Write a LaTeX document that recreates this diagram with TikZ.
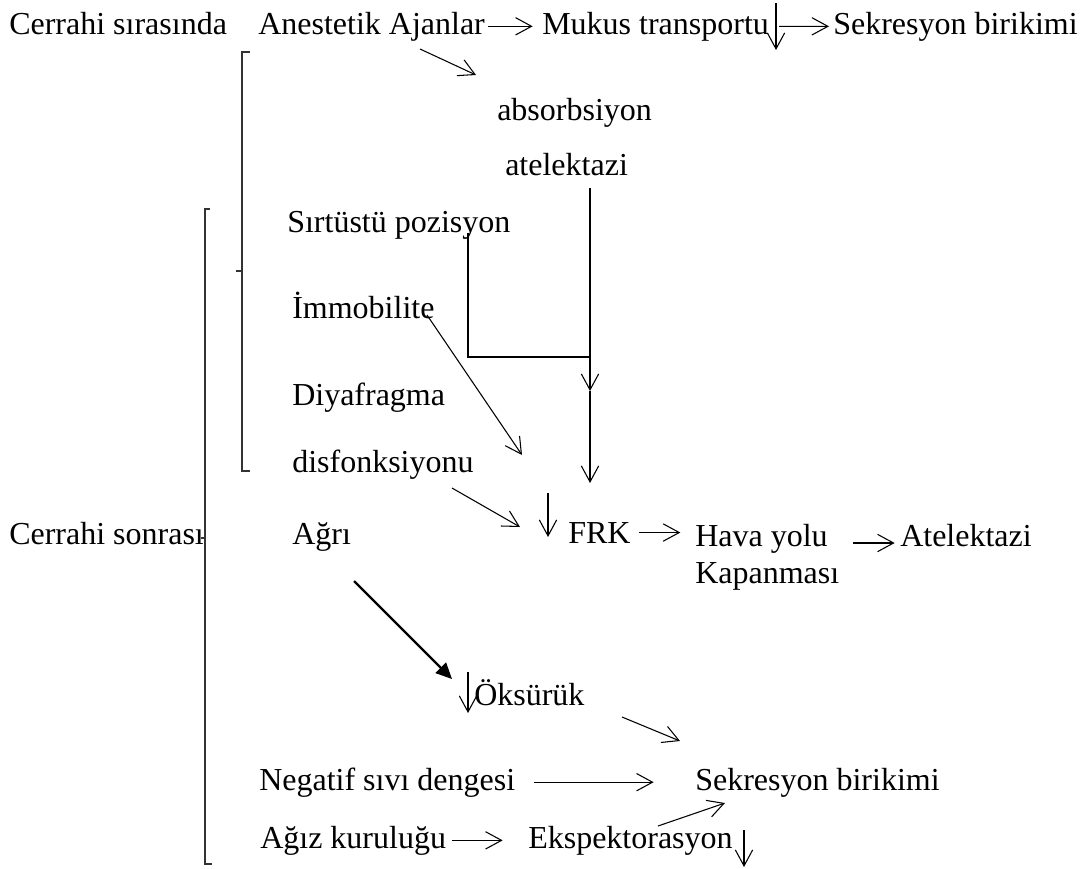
\documentclass[tikz,border=0pt]{standalone}
\usepackage{fontspec}
\setmainfont{Liberation Serif}
\usetikzlibrary{arrows.meta}

\begin{document}
\begin{tikzpicture}[x=0.75pt, y=-0.75pt,
  font=\fontsize{24}{28}\selectfont,
  txt/.style={inner sep=0pt, anchor=base west},
  arr/.style={-{Straight Barb[length=12pt, width=13pt]}, line width=0.8pt},
  bigarr/.style={-{Triangle[length=12pt, width=11pt]}, line width=1.6pt},
  brace/.style={line width=0.9pt, black!80}]

  \useasboundingbox (0,0) rectangle (1088,868);

  % during surgery
  \node[txt] (intra) at (9,34) {Cerrahi sırasında};
  \node[txt] (anes) at (258,34) {Anestetik Ajanlar};
  \node[txt] (mukus) at (542,34) {Mukus transportu};
  \node[txt] (sekr1) at (833,34) {Sekresyon birikimi};
  \node[txt] (absorb) at (497,120) {absorbsiyon};
  \node[txt] (atel1) at (505,175) {atelektazi};

  % risk factors
  \node[txt] (supine) at (287,232) {Sırtüstü pozisyon};
  \node[txt] (immob) at (292,318) {İmmobilite};
  \node[txt] (diyaf) at (292,405) {Diyafragma};
  \node[txt] (disf) at (292,472) {disfonksiyonu};
  \node[txt] (post) at (9,544) {Cerrahi sonrası};
  \node[txt] (pain) at (292,544) {Ağrı};
  \node[txt] (frk) at (568,543) {FRK};
  \node[inner sep=0pt, anchor=north west, align=left] (airway) at (695,524)
    {Hava yolu\\Kapanması};
  \node[txt] (atel2) at (900,546) {Atelektazi};
  \node[txt] (cough) at (474,705) {Öksürük};
  \node[txt] (neg) at (259,790) {Negatif sıvı dengesi};
  \node[txt] (sekr2) at (695,790) {Sekresyon birikimi};
  \node[txt] (dry) at (260,848) {Ağız kuruluğu};
  \node[txt] (expect) at (528,848) {Ekspektorasyon};

  % loose arrow ends
  \coordinate (mk1) at (776,3);   \coordinate (mk2) at (776,50);
  \coordinate (ab1) at (420,49);  \coordinate (ab2) at (476,75);
  \coordinate (v1) at (590,188);  \coordinate (v2) at (590,357);
  \coordinate (vm) at (590,391);  \coordinate (v3) at (590,483);
  \coordinate (sp1) at (468,233);
  \coordinate (im1) at (427,315); \coordinate (im2) at (522,455);
  \coordinate (df1) at (452,488); \coordinate (df2) at (520,527);
  \coordinate (fr1) at (548,493); \coordinate (fr2) at (548,537);
  \coordinate (hv1) at (853,543);
  \coordinate (pa1) at (354,581); \coordinate (pa2) at (452,679);
  \coordinate (ok1) at (468,672); \coordinate (ok2) at (468,713);
  \coordinate (ok3) at (622,717); \coordinate (ok4) at (680,741);
  \coordinate (ex1) at (658,826); \coordinate (ex2) at (725,803);
  \coordinate (ex3) at (744,830); \coordinate (ex4) at (744,867);

  % brackets
  \draw[brace] (250,52) -- (242,52) -- (242,471) -- (250,471);
  \draw[brace] (236,271) -- (242,271);
  \draw[brace] (210,209) -- (205,209) -- (205,864) -- (212,864);
  \draw[brace] (201,538) -- (205,538);

  % arrows
  \draw[arr, shorten <=2pt, shorten >=7pt] (anes.east) -- (mukus.west);
  \draw[arr] (mk1) -- (mk2);
  \draw[arr, shorten <=7.5pt, shorten >=3pt] (mukus.east) -- (sekr1.west);
  \draw[arr] (ab1) -- (ab2);
  \draw[arr] (v1) -- (vm);
  \draw[arr] (vm) -- (v3);
  \draw[line width=0.8pt] (sp1) |- (v2);
  \draw[arr] (im1) -- (im2);
  \draw[arr] (df1) -- (df2);
  \draw[arr] (fr1) -- (fr2);
  \draw[arr, shorten <=6pt, shorten >=11pt] (frk.east) -- (frk.east -| airway.west);
  \draw[arr, shorten >=4pt] (hv1) -- (hv1 -| atel2.west);
  \draw[bigarr] (pa1) -- (pa2);
  \draw[arr] (ok1) -- (ok2);
  \draw[arr] (ok3) -- (ok4);
  \draw[arr, shorten <=14pt, shorten >=31pt] (neg.east) -- (neg.east -| sekr2.west);
  \draw[arr, shorten <=4pt, shorten >=19pt] (dry.east) -- (dry.east -| expect.west);
  \draw[arr] (ex1) -- (ex2);
  \draw[arr] (ex3) -- (ex4);
\end{tikzpicture}
\end{document}
